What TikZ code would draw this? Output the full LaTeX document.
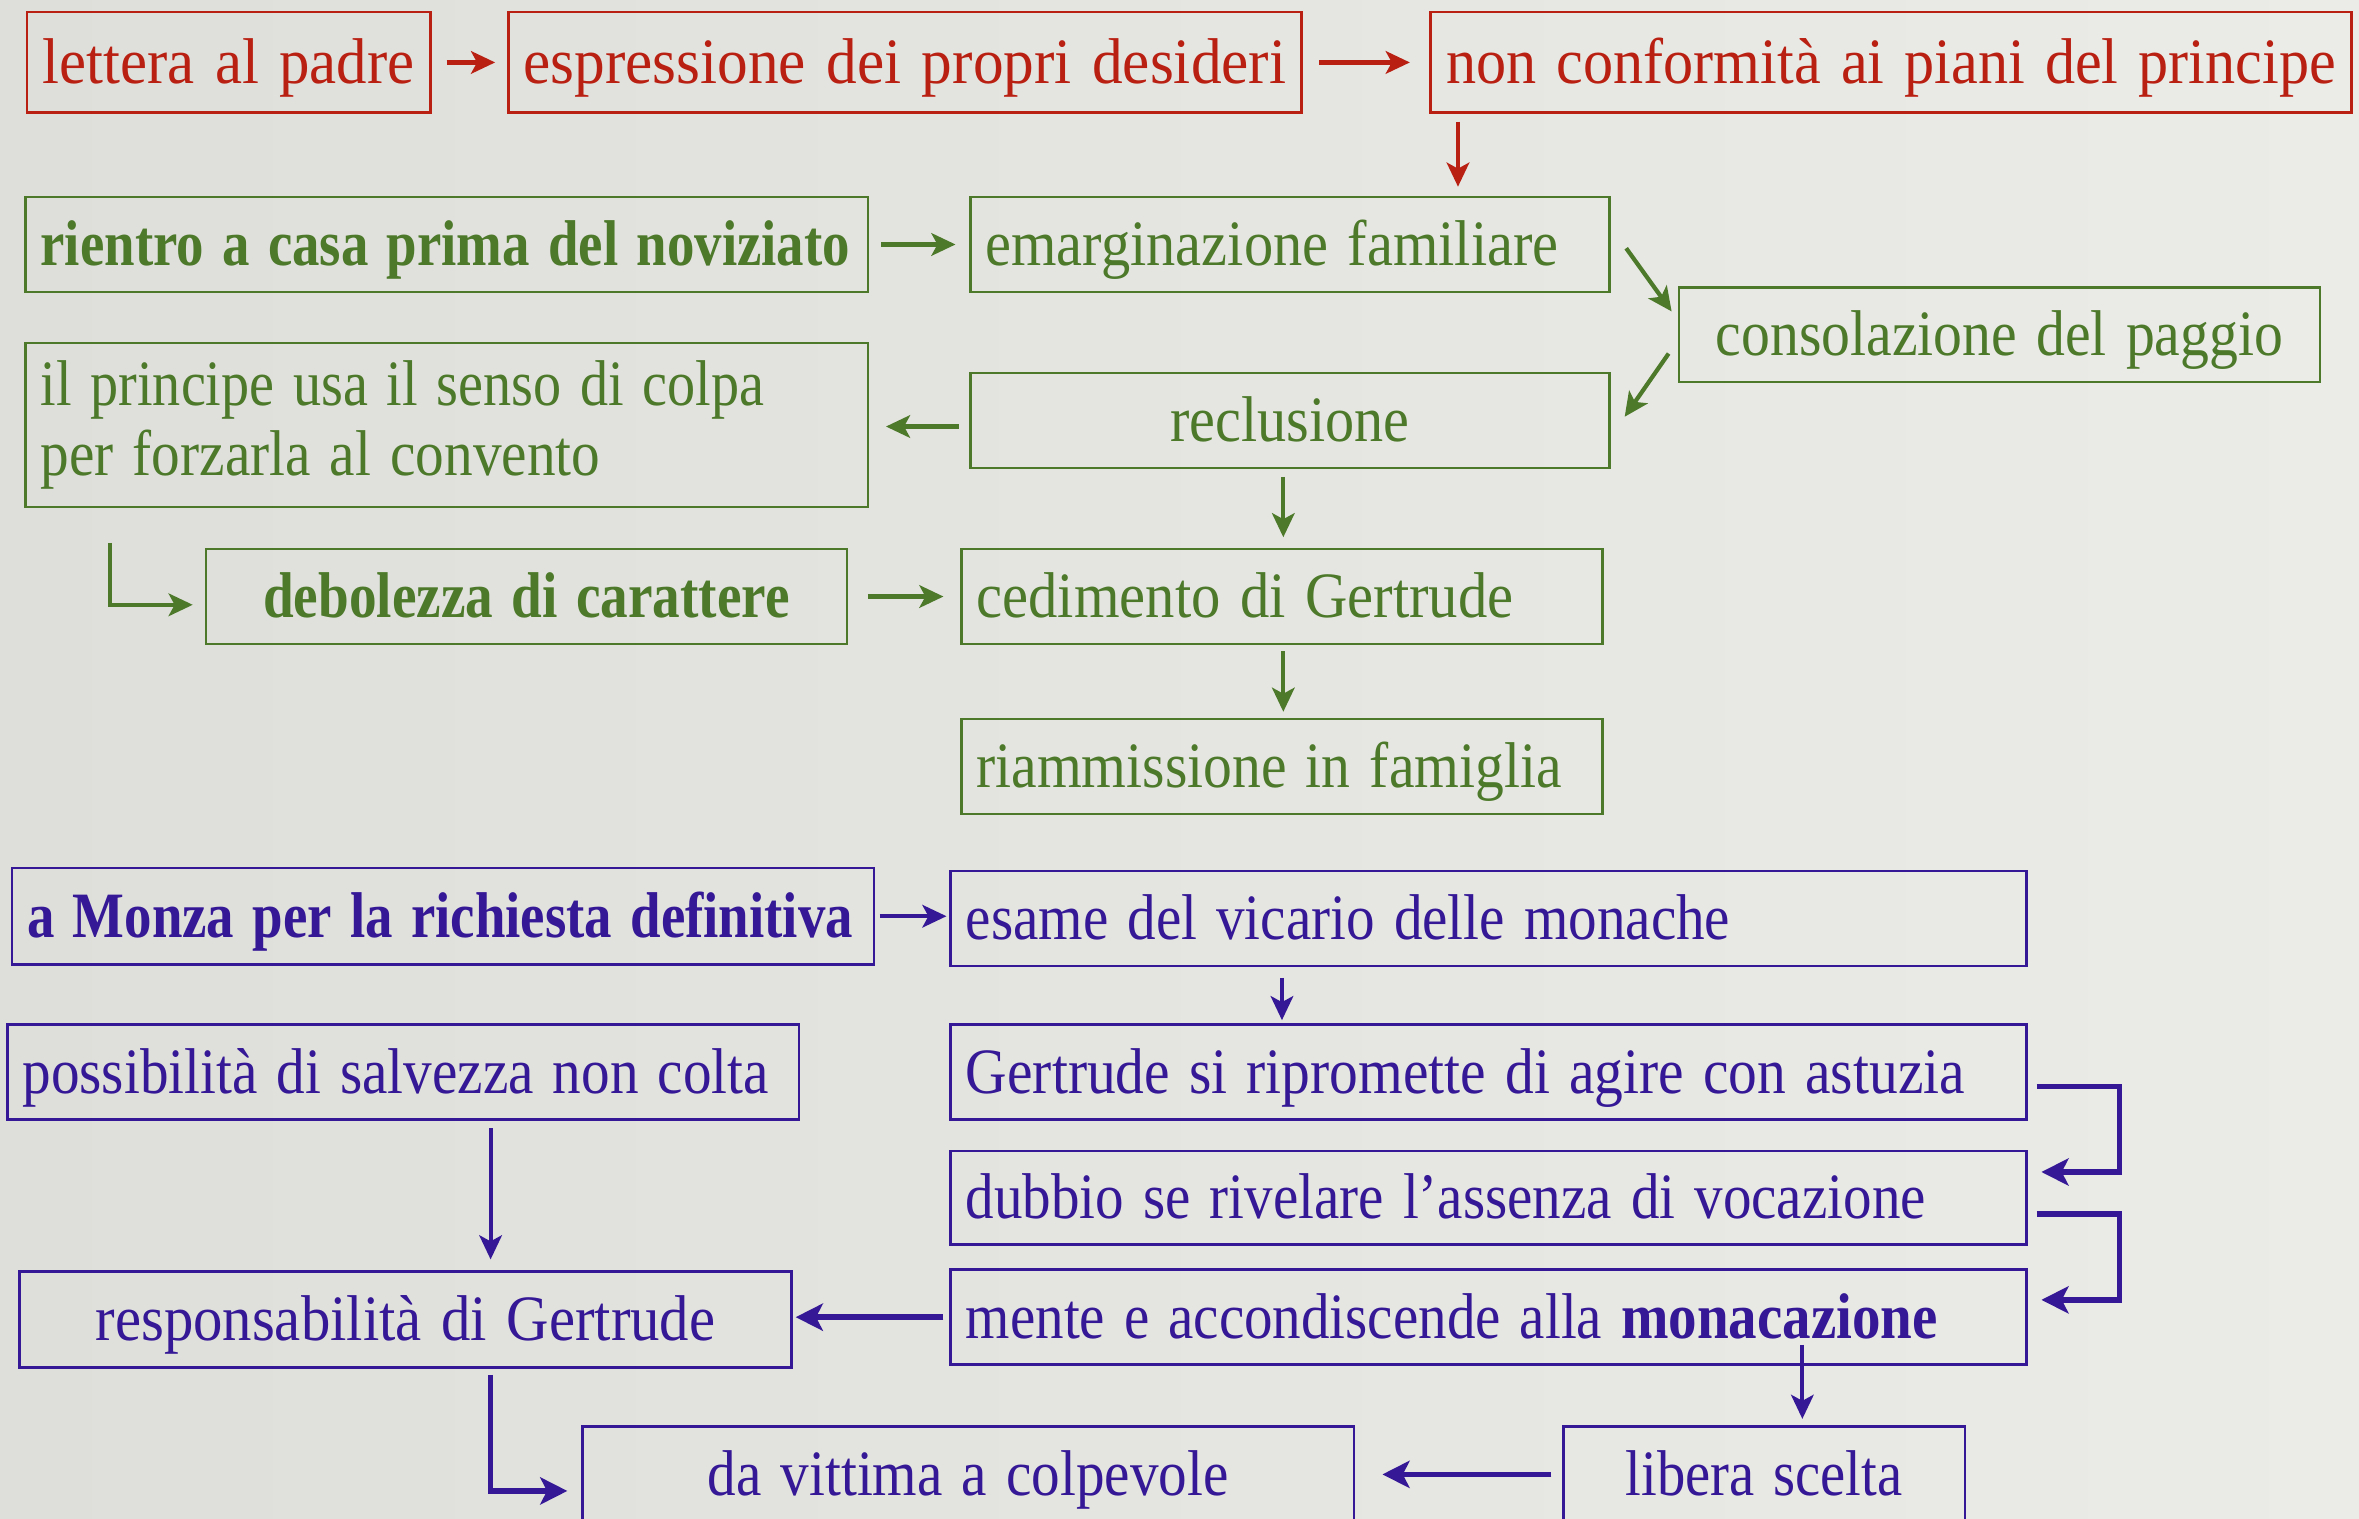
\documentclass[tikz,border=0pt]{standalone}
\usepackage{fontspec}
\usepackage{graphicx}
\setmainfont{Liberation Serif}[WordSpace=0.7]
\usetikzlibrary{arrows.meta,calc}
\definecolor{cred}{RGB}{185,32,18}
\definecolor{cgreen}{RGB}{76,122,42}
\definecolor{cblue}{RGB}{52,24,150}
\definecolor{bgA}{RGB}{222,222,218}
\definecolor{bgB}{RGB}{237,237,233}
\definecolor{bgC}{RGB}{235,235,231}
\newcommand\fs{\fontsize{43}{46}\selectfont}
\newcommand\fw[2]{\resizebox{#1pt}{\height}{#2}}
\begin{document}
\begin{tikzpicture}[x=1pt,y=-1pt,
  bx/.style={draw, line width=1.8pt, inner xsep=10pt, inner ysep=0pt, font=\fs, minimum height=64pt, anchor=center},
  sl/.style={text height=28pt, text depth=0pt},
  L/.style={text width=#1, align=left},
  C/.style={text width=#1, align=center},
  rb/.style={bx, sl, draw=cred, text=cred},
  gb/.style={bx, draw=cgreen, text=cgreen},
  bb/.style={bx, sl, draw=cblue, text=cblue},
  tip/.style={-{Stealth[length=16pt,width=15pt,inset=4pt]}},
  tipT/.style={-{Stealth[length=18pt,width=18pt,inset=4.5pt]}},
  rarr/.style={draw=cred, line width=2.8pt, tip},
  garr/.style={draw=cgreen, line width=2.8pt, tip},
  barr/.style={draw=cblue, line width=2.6pt, tip},
  barrT/.style={draw=cblue, line width=3.6pt, tipT},
]
\useasboundingbox (0,0) rectangle (1568,1009);
\shade[left color=bgA, middle color=bgB, right color=bgC] (0,0) rectangle (1568,1009);

% red
\node[rb, C=248pt, minimum height=67pt] (n1) at (152,41.5) {\fw{247}{lettera al padre}};
\node[rb, C=507pt, minimum height=67pt] (n2) at (601.5,41.5) {\fw{507}{espressione dei propri desideri}};
\node[rb, C=592pt, minimum height=67pt] (n3) at (1257,41.5) {\fw{591}{non conformità ai piani del principe}};

% green
\node[gb, sl, L=540pt, minimum height=63pt] (g1) at (297,162.5) {\fw{538}{\textbf{rientro a casa prima del noviziato}}};
\node[gb, sl, L=405pt, minimum height=63pt] (g2) at (857.5,162.5) {\fw{381}{emarginazione familiare}};
\node[gb, sl, C=406pt, minimum height=63pt] (g3) at (1329,222.5) {\fw{377}{consolazione del paggio}};
\node[gb, L=540pt, minimum height=109pt] (g4) at (297,282.5) {\fw{481}{il principe usa il senso di colpa}\\\fw{372}{per forzarla al convento}};
\node[gb, sl, C=405pt, minimum height=63pt] (g5) at (857.5,279.5) {\fw{159}{reclusione}};
\node[gb, sl, C=406pt, minimum height=63pt] (g6) at (350,396.5) {\fw{350}{\textbf{debolezza di carattere}}};
\node[gb, sl, L=406pt, minimum height=63pt] (g7) at (852,396.5) {\fw{357}{cedimento di Gertrude}};
\node[gb, sl, L=406pt, minimum height=63pt] (g8) at (852,509.5) {\fw{389}{riammissione in famiglia}};

% blue
\node[bb, L=553pt] (b1) at (294.5,609) {\fw{549}{\textbf{a Monza per la richiesta definitiva}}};
\node[bb, L=695pt, minimum height=63pt] (b2) at (989.5,610.5) {\fw{508}{esame del vicario delle monache}};
\node[bb, L=506pt, minimum height=63pt] (b3) at (268,712.5) {\fw{496}{possibilità di salvezza non colta}};
\node[bb, L=695pt, minimum height=63pt] (b4) at (989.5,712.5) {\fw{664}{Gertrude si ripromette di agire con astuzia}};
\node[bb, L=695pt, minimum height=62pt] (b5) at (989.5,796) {\fw{638}{dubbio se rivelare l’assenza di vocazione}};
\node[bb, C=493pt] (b6) at (269.5,877) {\fw{412}{responsabilità di Gertrude}};
\node[bb, L=695pt, minimum height=63pt] (b7) at (989.5,875.5) {\fw{646}{mente e accondiscende alla \textbf{monacazione}}};
\node[bb, C=493pt] (b8) at (643.5,980) {\fw{346}{da vittima a colpevole}};
\node[bb, C=247pt] (b9) at (1172.5,980) {\fw{184}{libera scelta}};

% red arrows
\draw[rarr, shorten <=10pt, shorten >=8pt] (n1) -- (n2);
\draw[rarr, shorten <=11pt, shorten >=13pt] (n2) -- (n3);
\draw[rarr, shorten <=5pt, shorten >=6pt] ([xshift=19pt]n3.south west) -- ([xshift=19pt]n3.south west |- g2.north);

% green arrows
\draw[garr, shorten <=8pt, shorten >=9pt] (g1) -- (g2);
\draw[garr] ([xshift=10pt,yshift=-2.5pt]g2.east) -- ([xshift=-4pt,yshift=15.5pt]g3.west);
\draw[garr] ([xshift=-6pt,yshift=-12.5pt]g3.west) -- ([xshift=9pt,yshift=2.5pt]g5.east);
\draw[garr, shorten <=7pt, shorten >=11pt] ([yshift=-4pt]g5.west) -- ([yshift=-4pt]g5.west -| g4.east);
\draw[garr, shorten <=5pt, shorten >=7pt] ([xshift=-4.5pt]g5.south) -- ([xshift=-4.5pt]g5.south |- g7.north);
\draw[garr] ([xshift=57pt,yshift=-23pt]g4.south west) |- ([xshift=-8pt,yshift=-5.5pt]g6.west);
\draw[garr, shorten <=13pt, shorten >=11pt] (g6) -- (g7);
\draw[garr, shorten <=4pt, shorten >=4pt] ([xshift=1pt]g7.south) -- ([xshift=1pt]g7.south |- g8.north);

% blue arrows
\draw[barr, shorten <=3pt, shorten >=2pt] (b1.east) -- (b1.east -| b2.west);
\draw[barr, shorten <=7pt, shorten >=2pt] ([xshift=221pt]b2.south west) -- ([xshift=221pt]b2.south west |- b4.north);
\draw[barrT] ([xshift=6pt,yshift=-9.5pt]b4.east) -- ++(55,0) |- ([xshift=9pt,yshift=17pt]b5.east);
\draw[barrT] ([xshift=6pt,yshift=-11pt]b5.east) -- ++(55,0) |- ([xshift=9pt,yshift=11.5pt]b7.east);
\draw[barr, shorten <=5pt, shorten >=7pt] ([xshift=322pt]b3.south west) -- ([xshift=322pt]b3.south west |- b6.north);
\draw[barrT, shorten <=4pt, shorten >=2pt] (b7.west) -- (b7.west -| b6.east);
\draw[barrT] ([xshift=314pt,yshift=-4pt]b6.south west) |- ([xshift=-9pt,yshift=-11pt]b8.west);
\draw[barr, shorten >=4pt] ([xshift=208.5pt,yshift=14pt]b7.south) -- ([xshift=208.5pt]b7.south |- b9.north);
\draw[barrT, shorten <=7pt, shorten >=18pt] (b9.west) -- (b9.west -| b8.east);
\end{tikzpicture}
\end{document}
